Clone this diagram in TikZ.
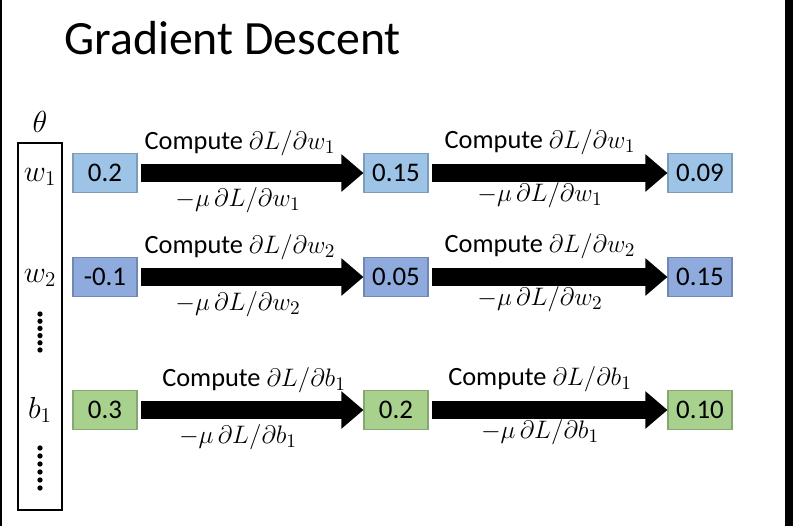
\documentclass[tikz,border=0pt]{standalone}
\usepackage{amsmath,amssymb}
\usepackage{fontspec}
\setmainfont{Carlito}
\usepackage{xcolor}
\usepackage{tikz}
\usetikzlibrary{arrows.meta,positioning}

\definecolor{boxblue}{RGB}{157,195,230}
\definecolor{boxperi}{RGB}{143,170,220}
\definecolor{boxgreen}{RGB}{169,209,142}

\begin{document}
\begin{tikzpicture}[x=0.02cm, y=-0.02cm]
    \tikzset{
        valbox/.style={fill=#1, draw=#1!80!black, line width=0.6pt,
                minimum width=1.28cm, minimum height=0.78cm, inner sep=0pt,
                font=\fontsize{15.3}{17}\selectfont},
        lbl/.style={font=\fontsize{15}{17}\selectfont, inner sep=0pt},
        varlbl/.style={font=\fontsize{16.4}{18}\selectfont, inner sep=0pt},
        bigarrow/.style={line width=0.36cm, shorten <=2pt,
                -{Triangle[length=0.44cm, width=0.72cm]}}
    }
    \useasboundingbox (0,0) rectangle (793,526);

    % screen frame
    \fill (0,0) rectangle (2,526);
    \fill (785,0) rectangle (793,526);

    % Title
    \node[font=\fontsize{27.2}{31}\selectfont, anchor=base west, inner sep=0pt] (title) at (64,55) {Gradient Descent};

    % Parameter vector
    \node[draw, line width=1.5pt, minimum width=0.88cm, minimum height=7.34cm] (vec) at (40,326.5) {};
    \node[varlbl, above=5pt of vec] (theta) {$\theta$};
    \node[varlbl] (w1) at (40,177) {$w_1$};
    \node[varlbl] (w2) at (40,278) {$w_2$};
    \node[varlbl] (b1) at (40,410) {$b_1$};
    \foreach \d in {0,...,5} {
            \fill (40,314+7.2*\d) circle (1.5pt); % dots under w2
            \fill (40,448+8*\d) circle (1.5pt); % dots under b1
        }

    % Update steps
    \foreach \r/\y/\va/\vb/\vc/\col/\sym/\lx in {1/173/0.2/0.15/0.09/boxblue/w_1/240,
                2/277/-0.1/0.05/0.15/boxperi/w_2/240,
                3/410/0.3/0.2/0.10/boxgreen/b_1/254} {
            \node[valbox=\col] (p\r0) at (105,\y) {\va};
            \node[valbox=\col] (p\r1) at (396,\y) {\vb};
            \node[valbox=\col] (p\r2) at (700,\y) {\vc};
            \draw[bigarrow] (p\r0) -- (p\r1);
            \draw[bigarrow] (p\r1) -- (p\r2);
            \node[lbl] (up\r0) at (\lx,\y-30) {Compute $\partial L/\partial \sym$};
            \node[lbl] (dn\r0) at (238,\y+27) {$-\mu\,\partial L/\partial \sym$};
            \node[lbl] (up\r1) at (540,\y-31) {Compute $\partial L/\partial \sym$};
            \node[lbl] (dn\r1) at (540,\y+22) {$-\mu\,\partial L/\partial \sym$};
        }

\end{tikzpicture}
\end{document}
